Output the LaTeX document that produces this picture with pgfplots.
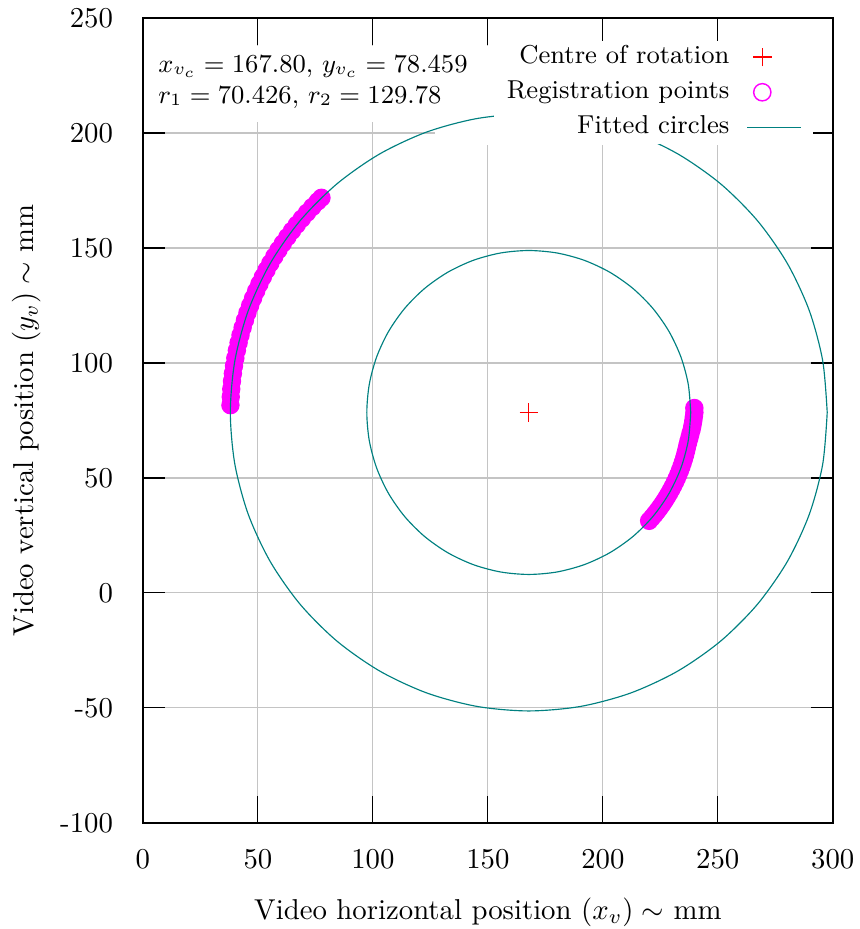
\documentclass[border=0pt]{standalone}
\usepackage{pgfplots}
\pgfplotsset{compat=1.18}
\definecolor{fitteal}{HTML}{008080}
\definecolor{regmag}{HTML}{FF00FF}
\definecolor{gridgray}{HTML}{C4C4C4}

\begin{document}
\begin{tikzpicture}
\begin{axis}[
  scale only axis,
  width=239.9pt,height=279.9pt,
  xmin=0,xmax=300,ymin=-100,ymax=250,
  clip marker paths=true,
  xtick={0,50,100,150,200,250,300},
  xticklabels={0,50,100,150,200,250,300},
  ytick={-100,-50,0,50,100,150,200,250},
  yticklabels={-100,-50,0,50,100,150,200,250},
  grid=major,
  grid style={gridgray,line width=0.4pt},
  tick align=inside,
  xtick style={black,line width=0.4pt,/pgfplots/major tick length=9.5pt},
  ytick style={black,line width=0.4pt,/pgfplots/major tick length=7.7pt},
  axis line style={black,line width=0.5pt},
  xticklabel style={yshift=-5.5pt},
  yticklabel style={xshift=-6.9pt},
  xlabel={Video horizontal position $(x_v) \sim$ mm},
  ylabel={Video vertical position $(y_v) \sim$ mm},
  xlabel style={yshift=-3.2pt},
  ylabel style={yshift=0pt},
  legend style={at={(axis cs:291.3,240.4)},anchor=north east,
    fill=white,draw=none,inner xsep=3.5pt,inner ysep=0pt,font=\small,
    nodes={inner sep=1pt,text height=7pt,text depth=2.5pt},
    cells={anchor=east},row sep=0.7pt,column sep=5pt},
  legend plot pos=right,
  legend cell align=right,
]
% opaque key backgrounds (hide grid only)
\fill[white] (axis cs:127,194.8) rectangle (axis cs:291.3,237.8);
\fill[white] (axis cs:0.6,204.8) rectangle (axis cs:142,237.8);

% centre of rotation
\addplot[red,only marks,mark=+,mark size=3.2pt,mark options={line width=0.5pt},
  legend image code/.code={\draw[red,line width=0.5pt] (5.2pt,-3.2pt) -- (5.2pt,3.2pt) (2.0pt,0pt) -- (8.4pt,0pt); \path[draw=none] (0pt,0pt) -- (18.8pt,0pt);}]
  coordinates {(167.80,78.459)};
\addlegendentry{Centre of rotation}

% registration points
\addplot[regmag,only marks,mark=*,mark size=3.0pt,mark options={fill=regmag,draw=regmag},
  legend image code/.code={\draw[regmag,line width=0.5pt] (5.2pt,0pt) circle (3.0pt); \path[draw=none] (0pt,0pt) -- (18.8pt,0pt);}]
  coordinates {
  (38.06,81.63) (38.20,85.25) (38.42,88.64) (38.73,92.03) (39.13,95.40)
  (39.62,98.76) (40.19,102.11) (40.86,105.44) (41.61,108.76) (42.44,112.05)
  (43.36,115.32) (44.37,118.56) (45.46,121.78) (46.64,124.97) (47.90,128.12)
  (49.24,131.25) (50.66,134.33) (52.17,137.38) (53.75,140.39) (55.41,143.35)
  (57.14,146.27) (58.96,149.14) (60.85,151.97) (62.81,154.74) (64.84,157.46)
  (66.94,160.13) (69.12,162.74) (71.36,165.30) (73.66,167.79) (76.03,170.23)
  (77.65,171.82)
  (220.14,31.34) (221.35,32.72) (222.53,34.14) (223.67,35.59) (224.78,37.06)
  (225.84,38.57) (226.86,40.10) (227.85,41.66) (228.79,43.25) (229.69,44.86)
  (230.55,46.49) (231.37,48.14) (232.14,49.81) (232.87,51.51) (233.55,53.22)
  (234.19,54.95) (234.78,56.70) (235.33,58.46) (235.83,60.23) (236.28,62.02)
  (236.69,63.82) (237.15,65.63) (237.66,67.44) (238.12,69.27) (238.64,71.10)
  (239.01,72.93) (239.33,74.77) (239.60,76.62) (239.83,78.46) (239.80,80.40)
  };
\addlegendentry{Registration points}

% fitted circles
\addplot[fitteal,line width=0.4pt,smooth,
  legend image code/.code={\draw[fitteal,line width=0.5pt] (0pt,0pt) -- (18.8pt,0pt);}]
  coordinates {
  (297.58,78.46) (295.61,101.00) (289.75,122.85) (280.19,143.35) (267.22,161.88)
  (251.22,177.88) (232.69,190.85) (212.19,200.41) (190.34,206.27) (167.80,208.24)
  (145.26,206.27) (123.41,200.41) (102.91,190.85) (84.38,177.88) (68.38,161.88)
  (55.41,143.35) (45.85,122.85) (39.99,101.00) (38.02,78.46) (39.99,55.92)
  (45.85,34.07) (55.41,13.57) (68.38,-4.96) (84.38,-20.96) (102.91,-33.93)
  (123.41,-43.49) (145.26,-49.35) (167.80,-51.32) (190.34,-49.35) (212.19,-43.49)
  (232.69,-33.93) (251.22,-20.96) (267.22,-4.96) (280.19,13.57) (289.75,34.07)
  (295.61,55.92) (297.58,78.46)
  };
\addlegendentry{Fitted circles}
\addplot[fitteal,line width=0.4pt,smooth,forget plot]
  coordinates {
  (238.23,78.46) (237.16,90.69) (233.98,102.55) (228.79,113.67) (221.75,123.73)
  (213.07,132.41) (203.01,139.45) (191.89,144.64) (180.03,147.82) (167.80,148.89)
  (155.57,147.82) (143.71,144.64) (132.59,139.45) (122.53,132.41) (113.85,123.73)
  (106.81,113.67) (101.62,102.55) (98.44,90.69) (97.37,78.46) (98.44,66.23)
  (101.62,54.37) (106.81,43.25) (113.85,33.19) (122.53,24.51) (132.59,17.47)
  (143.71,12.28) (155.57,9.10) (167.80,8.03) (180.03,9.10) (191.89,12.28)
  (203.01,17.47) (213.07,24.51) (221.75,33.19) (228.79,43.25) (233.98,54.37)
  (237.16,66.23) (238.23,78.46)
  };

\node[anchor=base west,inner sep=0pt,font=\small] at (axis cs:6.5,226.5)
  {$x_{v_c} = 167.80$, $y_{v_c} = 78.459$};
\node[anchor=base west,inner sep=0pt,font=\small] at (axis cs:6.5,213.0)
  {$r_1 = 70.426$, $r_2 = 129.78$};
\coordinate (sw) at (rel axis cs:0,0);
\coordinate (ne) at (rel axis cs:1,1);
\end{axis}
\pgfresetboundingbox
\path[use as bounding box] ([shift={(-49.7pt,-36.9pt)}]sw) rectangle ([shift={(9.4pt,6.26pt)}]ne);
\end{tikzpicture}
\end{document}
